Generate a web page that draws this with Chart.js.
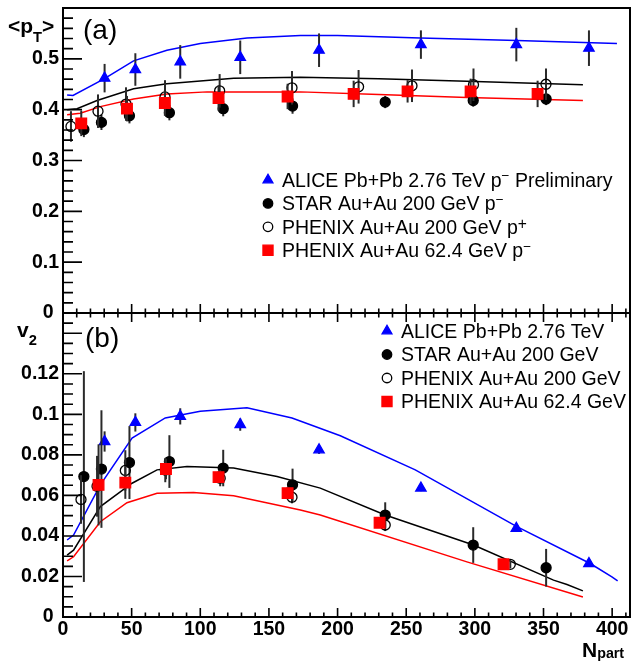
<!DOCTYPE html>
<html>
<head>
<meta charset="utf-8">
<script src="https://cdn.jsdelivr.net/npm/chart.js@4.4.1/dist/chart.umd.min.js"></script>
<style>
  body { margin: 0; background: #fff; }
  #wrap { position: relative; width: 631px; height: 662px; }
  canvas { position: absolute; left: 0; }
  #ptChart { top: 0; }
  #v2Chart { top: 305px; }
</style>
</head>
<body>
<div id="wrap">
  <canvas id="ptChart" width="631" height="322"></canvas>
  <canvas id="v2Chart" width="631" height="357"></canvas>
</div>
<script>
// ---- data (x = Npart) ----

// ALICE Pb+Pb 2.76 TeV
const aliceNpart = [30.3, 52.7, 85.4, 129.1, 186.5, 260.7, 330.2, 383.1];
const alicePt = [0.462, 0.479, 0.494, 0.503, 0.517, 0.528, 0.528, 0.521];
const alicePtErr = [0.028, 0.032, 0.033, 0.033, 0.033, 0.028, 0.033, 0.035];
const aliceV2 = [0.0866, 0.096, 0.099, 0.0949, 0.0825, 0.0636, 0.0438, 0.0264];
const aliceV2Err = [0.005, 0.0045, 0.004, 0.003, 0.002, 0.0015, 0.0015, 0.0015];

// STAR Au+Au 200 GeV
const starNpart = [15.2, 28, 48.4, 77.5, 116.7, 167.2, 234.7, 298.8, 351.9];
const starPt = [0.361, 0.375, 0.388, 0.394, 0.402, 0.407, 0.415, 0.418, 0.421];
const starPtErr = [0.015, 0.015, 0.015, 0.015, 0.015, 0.015, 0.012, 0.012, 0.012];
const starV2 = [0.0693, 0.073, 0.0762, 0.0767, 0.0735, 0.0652, 0.0503, 0.0355, 0.0243];
const starV2Err = [0.052, 0.029, 0.018, 0.013, 0.009, 0.008, 0.0063, 0.0088, 0.0093];

// PHENIX Au+Au 200 GeV
const phx200PtNpart = [5.8, 25.5, 45.9, 74.3, 114.1, 166.8, 215.3, 254.2, 299, 351.8];
const phx200Pt = [0.367, 0.397, 0.411, 0.425, 0.437, 0.443, 0.445, 0.447, 0.449, 0.450];
const phx200PtErr = [0.03, 0.033, 0.033, 0.033, 0.033, 0.033, 0.033, 0.032, 0.032, 0.031];
const phx200V2Npart = [13.1, 24.8, 45.4, 74.5, 114.5, 166.8, 234.7, 325.8];
const phx200V2 = [0.058, 0.0645, 0.0723, 0.0725, 0.0685, 0.0591, 0.0454, 0.026];
const phx200V2Err = [0.012, 0.015, 0.01, 0.006, 0.004, 0.003, 0.003, 0.002];

// PHENIX Au+Au 62.4 GeV
const phx62PtNpart = [13.3, 46.6, 74.2, 113.3, 163.6, 211.7, 251, 296.9, 345.7];
const phx62Pt = [0.373, 0.402, 0.413, 0.423, 0.426, 0.431, 0.436, 0.436, 0.431];
const phx62PtErr = [0.025, 0.025, 0.025, 0.025, 0.025, 0.026, 0.022, 0.025, 0.026];
const phx62V2Npart = [25.9, 45.4, 75, 113.3, 163.6, 230.6, 320.9];
const phx62V2 = [0.0652, 0.0663, 0.073, 0.069, 0.0611, 0.0465, 0.026];
const phx62V2Err = [0.02, 0.008, 0.005, 0.003, 0.003, 0.002, 0.002];

// model curves
const lhcPtN = [3, 7.3, 29.6, 51.4, 75.7, 100, 134, 172.9, 200, 260.2, 330.6, 403.5];
const lhcPt = [0.429, 0.428, 0.460, 0.496, 0.517, 0.530, 0.541, 0.546, 0.546, 0.541, 0.536, 0.530];
const rhic200PtN = [3, 10.2, 24.8, 51.4, 75.7, 124.3, 172.9, 230, 294.2, 378.7];
const rhic200Pt = [0.400, 0.402, 0.418, 0.441, 0.451, 0.462, 0.464, 0.461, 0.456, 0.449];
const rhic62PtN = [3, 12.6, 27.2, 51.4, 75.7, 104.9, 172.9, 230, 294.2, 378.7];
const rhic62Pt = [0.390, 0.393, 0.406, 0.421, 0.431, 0.435, 0.435, 0.430, 0.424, 0.418];

const lhcV2N = [3, 7.7, 27.2, 50.3, 74.5, 100, 134, 166.8, 202, 256.6, 330.6, 384, 399.8, 404];
const lhcV2 = [0.038, 0.0404, 0.0652, 0.0883, 0.0982, 0.1015, 0.1032, 0.0982, 0.0894, 0.0726, 0.0446, 0.0264, 0.0198, 0.0178];
const rhic200V2N = [3, 7.7, 27.2, 50.3, 68.5, 90.3, 124.3, 155.9, 187.4, 234.7, 299, 357.3, 367.1, 378.7];
const rhic200V2 = [0.0305, 0.033, 0.0545, 0.066, 0.0726, 0.0743, 0.0735, 0.0693, 0.0636, 0.0503, 0.0355, 0.0182, 0.016, 0.0129];
const rhic62V2N = [3, 7.7, 27.2, 46.6, 68.5, 95.1, 124.3, 172.9, 187.4, 294.2, 378.7];
const rhic62V2 = [0.0277, 0.0297, 0.047, 0.0564, 0.0611, 0.0614, 0.0598, 0.0528, 0.0503, 0.0272, 0.0099];

// tick labels
const xTicks = [0, 50, 100, 150, 200, 250, 300, 350, 400];
const ptTicks = [0, 0.1, 0.2, 0.3, 0.4, 0.5];
const v2Ticks = [0, 0.02, 0.04, 0.06, 0.08, 0.1, 0.12];

const FONT = '"Liberation Sans", Arial, Helvetica, sans-serif';
const BLUE = '#0000ff', RED = '#ff0000', BLACK = '#000000';

// draw a string made of pieces: [text, size factor, y shift]
function drawRich(ctx, x, y, parts, size, weight) {
    parts.forEach(([t, f = 1, dy = 0]) => {
        ctx.font = `${weight} ${size * f}px ${FONT}`;
        ctx.fillText(t, x, y + dy);
        x += ctx.measureText(t).width;
    });
}

function pts(xs, ys) {
    return xs.map((x, i) => ({ x, y: ys[i] }));
}

function curve(xs, ys, color) {
    return { data: pts(xs, ys), showLine: true, borderColor: color, borderWidth: 1.5,
             pointRadius: 0, order: 10 };
}

function markers(xs, ys, err, style, fill, stroke, radius, order) {
    return { data: pts(xs, ys), errY: err, pointStyle: style, pointRadius: radius,
             pointBackgroundColor: fill, pointBorderColor: stroke, pointBorderWidth: 1.3,
             showLine: false, order };
}

// ROOT puts the lone "0" label a bit further left
function tickLabel(v) {
    return v === 0 ? '0 ' : String(v);
}

// vertical error bars, drawn just before the markers of the same set
const errorBars = {
    id: 'errorBars',
    beforeDatasetDraw(chart, args) {
        const ds = chart.data.datasets[args.index];
        if (!ds.errY) return;
        const { ctx, scales: { x, y } } = chart;
        ctx.save();
        ctx.strokeStyle = '#2a2a2a';
        ctx.lineWidth = 2;
        ds.data.forEach((p, i) => {
            const px = x.getPixelForValue(p.x);
            ctx.beginPath();
            ctx.moveTo(px, y.getPixelForValue(p.y - ds.errY[i]));
            ctx.lineTo(px, y.getPixelForValue(p.y + ds.errY[i]));
            ctx.stroke();
        });
        ctx.restore();
    }
};

// ROOT style frame with ticks pointing inside
const rootAxes = {
    id: 'rootAxes',
    afterDatasetsDraw(chart, args, o) {
        const { ctx, chartArea: a, scales: { x, y } } = chart;
        ctx.save();
        ctx.strokeStyle = BLACK;
        ctx.lineWidth = 1.6;
        ctx.beginPath();
        for (let i = 0; i * o.yMinor <= y.max + 1e-9; i++) {
            const py = y.getPixelForValue(i * o.yMinor);
            const len = i % o.yPer === 0 ? 19 : 10;
            ctx.moveTo(a.left, py);
            ctx.lineTo(a.left + len, py);
        }
        for (let i = 0; i * 10 <= x.max; i++) {
            const px = x.getPixelForValue(i * 10);
            const len = i % 5 === 0 ? 9 : 4.5;
            ctx.moveTo(px, a.bottom);
            ctx.lineTo(px, a.bottom - len);
            if (o.topTicks) {
                ctx.moveTo(px, a.top);
                ctx.lineTo(px, a.top + len);
            }
        }
        ctx.stroke();
        ctx.lineWidth = 2;
        ctx.strokeRect(a.left, a.top, a.right - a.left, a.bottom - a.top);
        ctx.restore();
    }
};

// titles, panel tag and legend
const panelText = {
    id: 'panelText',
    afterDraw(chart, args, o) {
        const { ctx, chartArea: a } = chart;
        ctx.save();
        ctx.fillStyle = BLACK;
        ctx.textBaseline = 'alphabetic';
        ctx.textAlign = 'left';
        o.titles.forEach(t => drawRich(ctx, t.x, t.y, t.parts, t.size, t.weight));
        const lg = o.legend;
        lg.items.forEach((it, k) => {
            const ds = chart.data.datasets[it.ds];
            const cy = a.top + lg.top + k * lg.dy;
            ctx.fillStyle = ds.pointBackgroundColor;
            ctx.strokeStyle = ds.pointBorderColor;
            ctx.lineWidth = ds.pointBorderWidth;
            Chart.helpers.drawPoint(ctx, { pointStyle: ds.pointStyle, radius: ds.pointRadius * 0.95,
                                           borderWidth: ds.pointBorderWidth, rotation: 0 },
                                    a.left + lg.left, cy);
            ctx.fillStyle = BLACK;
            drawRich(ctx, a.left + lg.left + 14, cy + 6.8, it.parts, 19.5, 'normal');
        });
        ctx.restore();
    }
};

function makeChart(id, datasets, yMax, yTicks, showX, opts) {
    return new Chart(document.getElementById(id), {
        type: 'scatter',
        data: { datasets },
        options: {
            responsive: false,
            devicePixelRatio: 1,
            animation: false,
            events: [],
            layout: { autoPadding: false, padding: opts.padding },
            plugins: {
                legend: { display: false },
                tooltip: { enabled: false },
                rootAxes: opts.axes,
                panelText: opts.text
            },
            scales: {
                x: {
                    type: 'linear', min: 0, max: 413,
                    grid: { display: false, drawTicks: false },
                    border: { display: false },
                    ticks: { display: showX, color: BLACK, padding: 1,
                             font: { family: FONT, size: 19.5, weight: 'bold' },
                             callback: v => String(v) },
                    afterBuildTicks: s => { s.ticks = xTicks.map(v => ({ value: v })); },
                    afterFit: s => { s.height = showX ? 45 : 0; s.paddingLeft = 0; s.paddingRight = 0; }
                },
                y: {
                    type: 'linear', min: 0, max: yMax,
                    grid: { display: false, drawTicks: false },
                    border: { display: false },
                    ticks: { color: BLACK, padding: 4,
                             font: { family: FONT, size: 19.5, weight: 'bold' },
                             callback: tickLabel },
                    afterBuildTicks: s => { s.ticks = yTicks.map(v => ({ value: v })); },
                    afterFit: s => { s.width = 63; s.paddingTop = 0; s.paddingBottom = 0; }
                }
            }
        },
        plugins: [errorBars, rootAxes, panelText]
    });
}

// ---- panel (a): <pT> ----
const ptSets = [
    curve(lhcPtN, lhcPt, BLUE),
    curve(rhic200PtN, rhic200Pt, BLACK),
    curve(rhic62PtN, rhic62Pt, RED),
    markers(aliceNpart, alicePt, alicePtErr, 'triangle', BLUE, BLUE, 6, 4),
    markers(starNpart, starPt, starPtErr, 'circle', BLACK, BLACK, 5, 3),
    markers(phx200PtNpart, phx200Pt, phx200PtErr, 'circle', 'rgba(0,0,0,0)', BLACK, 5, 2),
    markers(phx62PtNpart, phx62Pt, phx62PtErr, 'rect', RED, RED, 7.5, 1)
];

makeChart('ptChart', ptSets, 0.6, ptTicks, false, {
    padding: { top: 8, right: 1, bottom: 9, left: 0 },
    axes: { yMinor: 0.02, yPer: 5, topTicks: false },
    text: {
        titles: [
            { x: 8, y: 33, size: 21, weight: 'bold', parts: [['<p'], ['T', 0.7, 9], ['>']] },
            { x: 83, y: 39, size: 28, weight: 'normal', parts: [['(a)']] }
        ],
        legend: {
            left: 205, top: 172, dy: 23.4,
            items: [
                { ds: 3, parts: [['ALICE Pb+Pb 2.76 TeV p'], ['\u2212', 0.7, -6.5], [' Preliminary']] },
                { ds: 4, parts: [['STAR Au+Au 200 GeV p'], ['\u2212', 0.7, -6.5]] },
                { ds: 5, parts: [['PHENIX Au+Au 200 GeV p'], ['+', 0.8, -4.5]] },
                { ds: 6, parts: [['PHENIX Au+Au 62.4 GeV p'], ['\u2212', 0.7, -6.5]] }
            ]
        }
    }
});

// ---- panel (b): v2 ----
const v2Sets = [
    curve(lhcV2N, lhcV2, BLUE),
    curve(rhic200V2N, rhic200V2, BLACK),
    curve(rhic62V2N, rhic62V2, RED),
    markers(aliceNpart, aliceV2, aliceV2Err, 'triangle', BLUE, BLUE, 6, 4),
    markers(starNpart, starV2, starV2Err, 'circle', BLACK, BLACK, 5, 3),
    markers(phx200V2Npart, phx200V2, phx200V2Err, 'circle', 'rgba(0,0,0,0)', BLACK, 5, 2),
    markers(phx62V2Npart, phx62V2, phx62V2Err, 'rect', RED, RED, 7.5, 1)
];

makeChart('v2Chart', v2Sets, 0.15, v2Ticks, true, {
    padding: { top: 8, right: 1, bottom: 0, left: 0 },
    axes: { yMinor: 0.005, yPer: 4, topTicks: true },
    text: {
        titles: [
            { x: 17, y: 32, size: 21, weight: 'bold', parts: [['v'], ['2', 0.7, 8]] },
            { x: 85, y: 42, size: 28, weight: 'normal', parts: [['(b)']] },
            { x: 582, y: 352, size: 21, weight: 'bold', parts: [['N'], ['part', 0.68, 1]] }
        ],
        legend: {
            left: 324, top: 18, dy: 23.5,
            items: [
                { ds: 3, parts: [['ALICE Pb+Pb 2.76 TeV']] },
                { ds: 4, parts: [['STAR Au+Au 200 GeV']] },
                { ds: 5, parts: [['PHENIX Au+Au 200 GeV']] },
                { ds: 6, parts: [['PHENIX Au+Au 62.4 GeV']] }
            ]
        }
    }
});
</script>
</body>
</html>
